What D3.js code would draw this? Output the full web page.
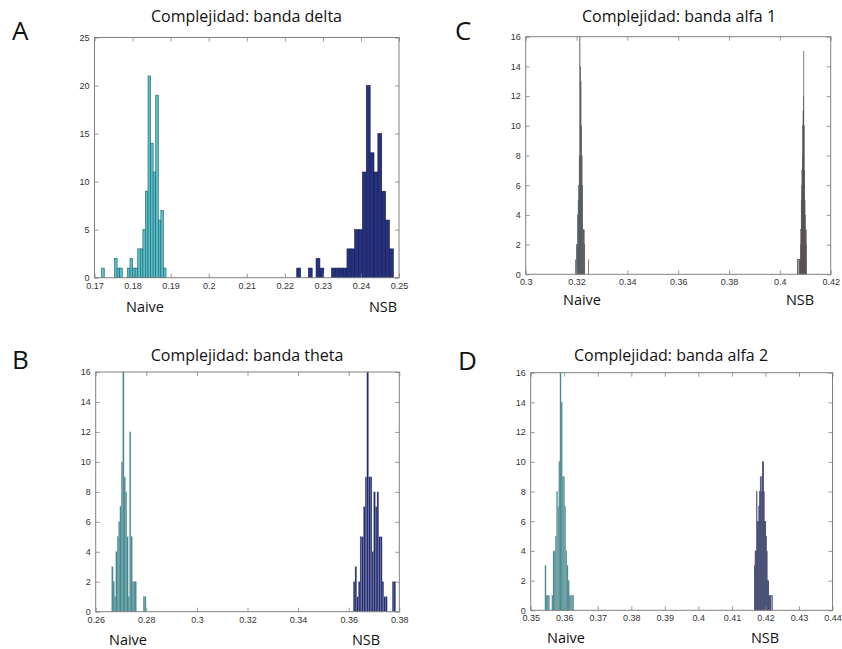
<!DOCTYPE html>
<html>
<head>
<meta charset="utf-8">
<script src="https://cdn.jsdelivr.net/npm/d3@7"></script>
<style>
  body { margin: 0; background: #fff; }
  svg { display: block; }
</style>
</head>
<body>
<svg id="fig" width="842" height="649"></svg>
<script>
// ---------- data ----------
const panelLetters = ["A", "B", "C", "D"];
const panelTitles = [
  "Complejidad: banda delta",
  "Complejidad: banda theta",
  "Complejidad: banda alfa 1",
  "Complejidad: banda alfa 2"
];
const groupNames = ["Naive", "NSB"];

// delta band
const deltaXTicks = [0.17, 0.18, 0.19, 0.2, 0.21, 0.22, 0.23, 0.24, 0.25];
const deltaYTicks = [0, 5, 10, 15, 20, 25];
const deltaNaiveRange = [0.17189, 0.18879];
const deltaNaiveCounts = [1, 0, 0, 0, 0, 2, 1, 1, 0, 0, 1, 2, 1, 1, 3, 3, 5, 9, 21, 14, 11, 19, 6, 7, 1];
const deltaNsbRange = [0.22313, 0.24851];
const deltaNsbCounts = [1, 0, 0, 1, 0, 2, 1, 0, 0, 1, 1, 1, 1, 3, 3, 5, 5, 11, 20, 13, 11, 15, 9, 6, 3];

// theta band
const thetaXTicks = [0.26, 0.28, 0.3, 0.32, 0.34, 0.36, 0.38];
const thetaYTicks = [0, 2, 4, 6, 8, 10, 12, 14, 16];
const thetaNaiveRange = [0.26632, 0.27988];
const thetaNaiveCounts = [3, 2, 1, 4, 5, 6, 7, 10, 16, 9, 8, 5, 1, 12, 5, 2, 2, 2, 0, 0, 0, 0, 0, 1, 1];
const thetaNsbRange = [0.36182, 0.37855];
const thetaNsbCounts = [2, 3, 1, 2, 5, 5, 7, 9, 16, 9, 9, 4, 8, 7, 8, 5, 5, 2, 1, 1, 0, 0, 0, 2, 2];

// alpha 1 band
const alfa1XTicks = [0.3, 0.32, 0.34, 0.36, 0.38, 0.4, 0.42];
const alfa1YTicks = [0, 2, 4, 6, 8, 10, 12, 14, 16];
const alfa1NaiveRange = [0.31951, 0.32478];
const alfa1NaiveCounts = [1, 0, 2, 2, 4, 5, 6, 8, 16, 14, 13, 10, 8, 6, 3, 3, 3, 2, 0, 0, 0, 0, 0, 0, 1];
const alfa1NsbRange = [0.40685, 0.41054];
const alfa1NsbCounts = [1, 1, 0, 0, 1, 0, 1, 1, 2, 3, 5, 6, 7, 8, 10, 11, 12, 15, 10, 7, 5, 4, 3, 2, 3];

// alpha 2 band
const alfa2XTicks = [0.35, 0.36, 0.37, 0.38, 0.39, 0.4, 0.41, 0.42, 0.43, 0.44];
const alfa2YTicks = [0, 2, 4, 6, 8, 10, 12, 14, 16];
const alfa2NaiveRange = [0.35424, 0.36285];
const alfa2NaiveCounts = [3, 1, 1, 1, 0, 0, 1, 4, 4, 5, 8, 7, 10, 16, 14, 9, 9, 7, 4, 3, 2, 1, 1, 1, 1];
const alfa2NsbRange = [0.41665, 0.42211];
const alfa2NsbCounts = [3, 4, 4, 8, 6, 6, 7, 8, 9, 8, 9, 10, 10, 8, 6, 6, 5, 4, 2, 2, 1, 1, 1, 0, 1];

// ---------- layout & style ----------
const panels = [
  { letter: panelLetters[0], title: panelTitles[0],
    frame: { left: 94.5, right: 399, top: 37.5, bottom: 277.7 },
    xTicks: deltaXTicks, yTicks: deltaYTicks,
    series: [
      { range: deltaNaiveRange, counts: deltaNaiveCounts, fill: "#55c0cb", stroke: "#235f67", sw: 0.6, label: groupNames[0], labelX: 145 },
      { range: deltaNsbRange, counts: deltaNsbCounts, fill: "#26327f", stroke: "#141a4a", sw: 0.6, label: groupNames[1], labelX: 383 }
    ],
    titleX: 246.5, titleY: 22, letterX: 12, letterY: 40, labelY: 312 },
  { letter: panelLetters[1], title: panelTitles[1],
    frame: { left: 95.7, right: 399.3, top: 372, bottom: 611.7 },
    xTicks: thetaXTicks, yTicks: thetaYTicks,
    series: [
      { range: thetaNaiveRange, counts: thetaNaiveCounts, fill: "#3b8a93", stroke: "#8fa6a9", sw: 0.3, label: groupNames[0], labelX: 128 },
      { range: thetaNsbRange, counts: thetaNsbCounts, fill: "#222c72", stroke: "#8e94b0", sw: 0.3, label: groupNames[1], labelX: 366 }
    ],
    titleX: 247, titleY: 361, letterX: 12, letterY: 369, labelY: 645 },
  { letter: panelLetters[2], title: panelTitles[2],
    frame: { left: 525.7, right: 830.7, top: 36.7, bottom: 274.3 },
    xTicks: alfa1XTicks, yTicks: alfa1YTicks,
    series: [
      { range: alfa1NaiveRange, counts: alfa1NaiveCounts, fill: "#1c292e", stroke: "#6f7677", sw: 0.25, label: groupNames[0], labelX: 582 },
      { range: alfa1NsbRange, counts: alfa1NsbCounts, fill: "#181212", stroke: "#6a6565", sw: 0.2, label: groupNames[1], labelX: 800 }
    ],
    titleX: 679, titleY: 22, letterX: 455, letterY: 40, labelY: 305 },
  { letter: panelLetters[3], title: panelTitles[3],
    frame: { left: 530.7, right: 832.5, top: 372.7, bottom: 610.3 },
    xTicks: alfa2XTicks, yTicks: alfa2YTicks,
    series: [
      { range: alfa2NaiveRange, counts: alfa2NaiveCounts, fill: "#3a8a92", stroke: "#8ea4a6", sw: 0.3, label: groupNames[0], labelX: 566 },
      { range: alfa2NsbRange, counts: alfa2NsbCounts, fill: "#1b2250", stroke: "#5d6284", sw: 0.25, label: groupNames[1], labelX: 765 }
    ],
    titleX: 671, titleY: 361, letterX: 458, letterY: 370, labelY: 643 }
];

const AXIS_COLOR = "#808080";
const TICK_LEN = 4;
const fmtTick = v => String(+v.toFixed(3));

const svg = d3.select("#fig");

panels.forEach(p => {
  const f = p.frame;
  const x = d3.scaleLinear()
    .domain([p.xTicks[0], p.xTicks[p.xTicks.length - 1]])
    .range([f.left, f.right]);
  const y = d3.scaleLinear()
    .domain([p.yTicks[0], p.yTicks[p.yTicks.length - 1]])
    .range([f.bottom, f.top]);

  const g = svg.append("g");

  // histogram bars for each group
  p.series.forEach(s => {
    const n = s.counts.length;
    const w = (s.range[1] - s.range[0]) / n;
    const bins = s.counts.map((c, i) => ({
      x0: s.range[0] + i * w,
      x1: s.range[0] + (i + 1) * w,
      count: c
    })).filter(b => b.count > 0);

    g.append("g").selectAll("rect")
      .data(bins)
      .join("rect")
      .attr("x", b => x(b.x0))
      .attr("width", b => x(b.x1) - x(b.x0))
      .attr("y", b => y(b.count))
      .attr("height", b => y(0) - y(b.count))
      .attr("fill", s.fill)
      .attr("stroke", s.stroke)
      .attr("stroke-width", s.sw);

    g.append("text")
      .attr("x", s.labelX)
      .attr("y", p.labelY)
      .attr("text-anchor", "middle")
      .attr("font-family", "'Open Sans', 'Noto Sans', sans-serif")
      .attr("font-size", 14.5)
      .attr("fill", "#111")
      .text(s.label);
  });

  // axes: ticks point inward, mirrored on top and right
  const axStyle = sel => {
    sel.select(".domain").remove();
    sel.selectAll(".tick line").attr("stroke", AXIS_COLOR).attr("stroke-width", 0.8);
    sel.selectAll(".tick text")
      .attr("font-family", "'Liberation Sans', Arial, sans-serif")
      .attr("font-size", 9)
      .attr("fill", "#333");
  };

  g.append("g").attr("transform", `translate(0,${f.bottom})`)
    .call(d3.axisBottom(x).tickValues(p.xTicks).tickFormat(fmtTick)
      .tickSizeInner(-TICK_LEN).tickSizeOuter(0).tickPadding(TICK_LEN + 0.5))
    .call(axStyle);
  g.append("g").attr("transform", `translate(0,${f.top})`)
    .call(d3.axisTop(x).tickValues(p.xTicks).tickFormat("")
      .tickSizeInner(-TICK_LEN).tickSizeOuter(0))
    .call(axStyle);
  g.append("g").attr("transform", `translate(${f.left},0)`)
    .call(d3.axisLeft(y).tickValues(p.yTicks).tickFormat(fmtTick)
      .tickSizeInner(-TICK_LEN).tickSizeOuter(0).tickPadding(TICK_LEN + 1))
    .call(axStyle);
  g.append("g").attr("transform", `translate(${f.right},0)`)
    .call(d3.axisRight(y).tickValues(p.yTicks).tickFormat("")
      .tickSizeInner(-TICK_LEN).tickSizeOuter(0))
    .call(axStyle);

  // plot frame
  g.append("rect")
    .attr("x", f.left).attr("y", f.top)
    .attr("width", f.right - f.left).attr("height", f.bottom - f.top)
    .attr("fill", "none").attr("stroke", AXIS_COLOR).attr("stroke-width", 1);

  // title and panel letter
  g.append("text")
    .attr("x", p.titleX).attr("y", p.titleY)
    .attr("text-anchor", "middle")
    .attr("font-family", "'Open Sans', 'Noto Sans', sans-serif")
    .attr("font-size", 16)
    .attr("fill", "#111")
    .text(p.title);

  g.append("text")
    .attr("x", p.letterX).attr("y", p.letterY)
    .attr("font-family", "'Open Sans', 'Noto Sans', sans-serif")
    .attr("font-size", 26)
    .attr("fill", "#111")
    .text(p.letter);
});
</script>
</body>
</html>
